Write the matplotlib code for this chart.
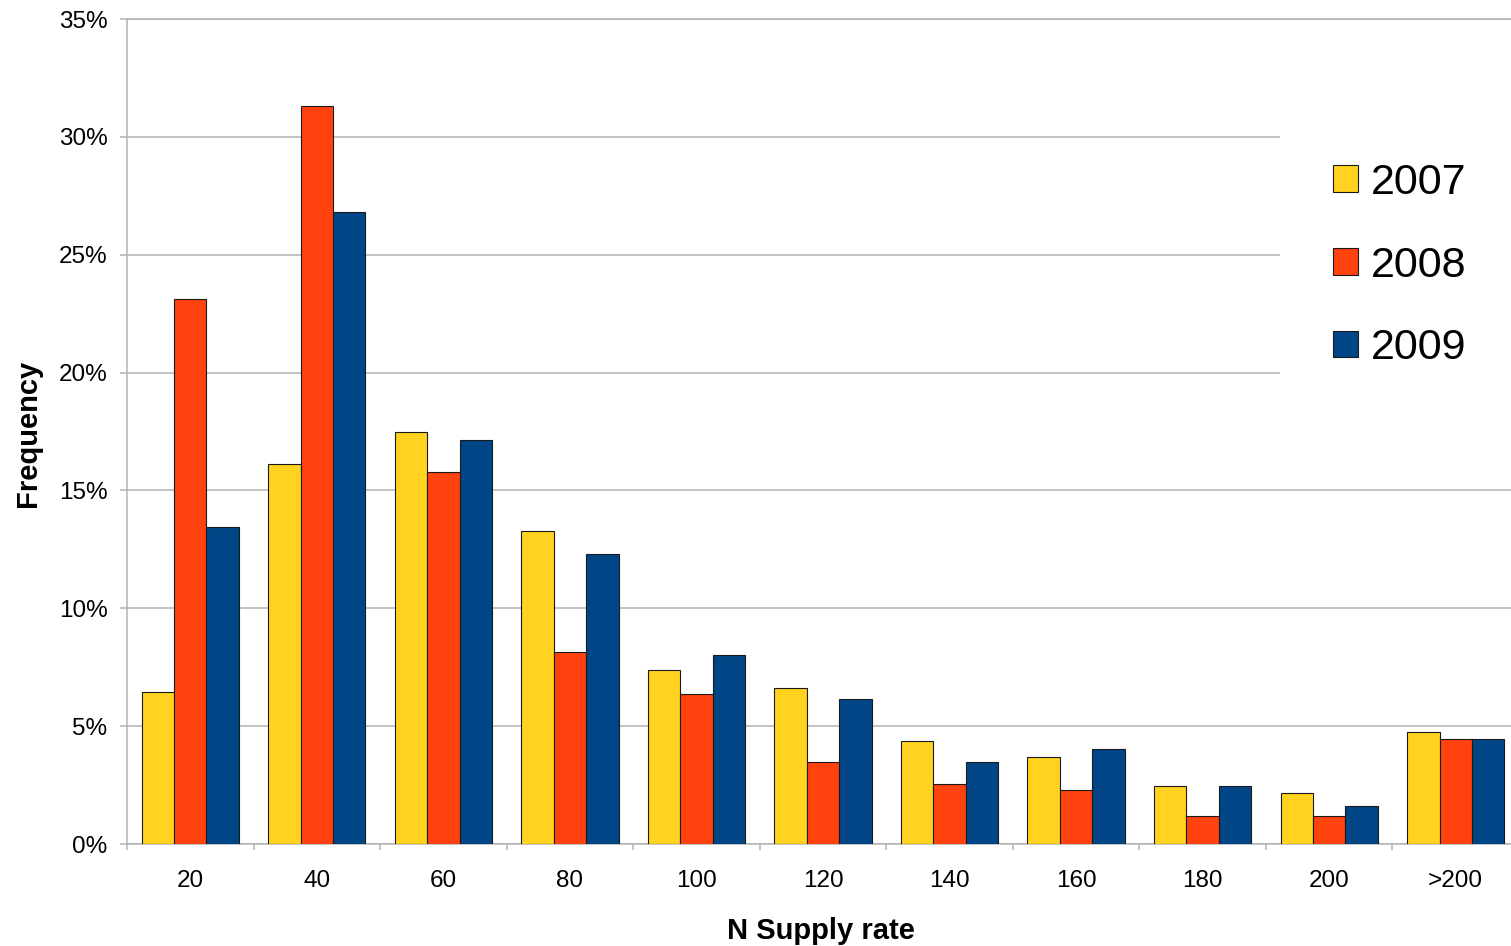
import numpy as np
import matplotlib
matplotlib.use("Agg")
import matplotlib.pyplot as plt
from matplotlib.ticker import FuncFormatter, FixedLocator

plt.rcParams['font.family'] = ['Liberation Sans', 'DejaVu Sans']

# data (percent)
categories = ["20", "40", "60", "80", "100", "120", "140", "160", "180", "200", ">200"]
years = ["2007", "2008", "2009"]
freq_2007 = [6.45, 16.1, 17.5, 13.3, 7.4, 6.6, 4.35, 3.7, 2.45, 2.15, 4.75]
freq_2008 = [23.1, 31.3, 15.8, 8.15, 6.35, 3.5, 2.55, 2.3, 1.2, 1.2, 4.45]
freq_2009 = [13.45, 26.8, 17.15, 12.3, 8.0, 6.15, 3.5, 4.05, 2.45, 1.6, 4.45]
colors = ["#FFD320", "#FF420E", "#004586"]

grid_col = "#b3b3b3"

fig = plt.figure(figsize=(15.11, 9.46), dpi=100)
# plot area runs slightly past the right edge, like the original
ax = fig.add_axes([127 / 1511, 102 / 946, 1392 / 1511, 825 / 946])

x = np.arange(len(categories))
w = 0.256
for j, (vals, c, yr) in enumerate(zip([freq_2007, freq_2008, freq_2009], colors, years)):
    ax.bar(x + (j - 1) * w, vals, width=w, color=c, edgecolor="#1a1a1a",
           linewidth=0.8, label=yr, zorder=3)

ax.set_xlim(-0.5, len(categories) - 0.5)
ax.set_ylim(0, 35)
ax.set_yticks(np.arange(0, 36, 5))
ax.yaxis.set_major_formatter(FuncFormatter(lambda v, p: f"{int(v)}%"))
ax.set_xticks(x)
ax.set_xticklabels(categories)
ax.xaxis.set_minor_locator(FixedLocator(np.arange(-0.5, len(categories), 1.0)))

ax.grid(axis="y", color=grid_col, linewidth=1.1, zorder=0)
ax.tick_params(axis="y", length=5, width=1.1, color=grid_col, pad=9, labelsize=17.5)
ax.tick_params(axis="x", which="major", length=0, pad=18.5, labelsize=17.5)
ax.tick_params(axis="x", which="minor", length=4.5, width=1.1, color=grid_col)

ax.spines["right"].set_visible(False)
for s in ["left", "bottom", "top"]:
    ax.spines[s].set_color(grid_col)
    ax.spines[s].set_linewidth(1.1)

fig.text(821 / 1511, 1 - 931 / 946, "N Supply rate", ha="center", va="center",
         fontsize=21, fontweight="bold")
fig.text(28 / 1511, 1 - 433 / 946, "Frequency", ha="center", va="center",
         rotation=90, fontsize=21, fontweight="bold")

leg = ax.legend(loc="upper left", bbox_to_anchor=(1280 / 1511, 1 - 110 / 946),
                bbox_transform=fig.transFigure, fontsize=31, frameon=True,
                facecolor="white", edgecolor="none", framealpha=1,
                handlelength=0.58, handleheight=0.58, handletextpad=0.30,
                borderpad=1.23, borderaxespad=0, labelspacing=0.99)
leg.set_zorder(5)

fig.savefig("out.png", dpi=100)
